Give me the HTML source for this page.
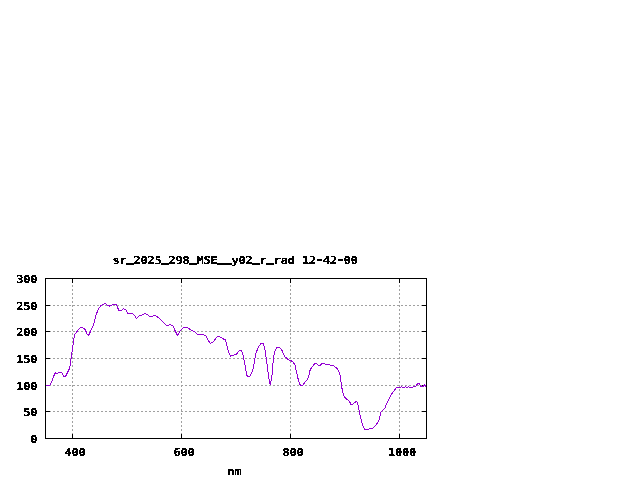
<!DOCTYPE html>
<html lang="en"><head><meta charset="utf-8"><title>sr_2025_298_MSE__y02_r_rad 12-42-00</title>
<style>html,body{margin:0;padding:0;background:#fff;width:640px;height:480px;overflow:hidden}svg{display:block}text{font-family:"DejaVu Sans Mono","Liberation Mono",monospace;font-weight:bold;font-size:12.0px;letter-spacing:-0.224px;fill:#000;stroke:#000;stroke-width:0.2px;text-rendering:geometricPrecision}.t{will-change:transform}</style></head><body>
<svg width="640" height="480" viewBox="0 0 640 480">
<defs><filter id="th" x="0" y="0" width="640" height="480" filterUnits="userSpaceOnUse" color-interpolation-filters="sRGB"><feComponentTransfer><feFuncA type="discrete" tableValues="0 1"/></feComponentTransfer></filter></defs>
<rect x="0" y="0" width="640" height="480" fill="#fff"/>
<g stroke="#a0a0a0" stroke-width="1" shape-rendering="crispEdges" stroke-dasharray="2 2" fill="none">
<line x1="45" y1="305.5" x2="427" y2="305.5"/>
<line x1="45" y1="331.5" x2="427" y2="331.5"/>
<line x1="45" y1="358.5" x2="427" y2="358.5"/>
<line x1="45" y1="385.5" x2="427" y2="385.5"/>
<line x1="45" y1="411.5" x2="427" y2="411.5"/>
<line x1="72.5" y1="439" x2="72.5" y2="278"/>
<line x1="181.5" y1="439" x2="181.5" y2="278"/>
<line x1="290.5" y1="439" x2="290.5" y2="278"/>
<line x1="399.5" y1="439" x2="399.5" y2="278"/>
</g>
<g stroke="#000" stroke-width="1" shape-rendering="crispEdges" fill="none">
<rect x="45.5" y="278.5" width="381" height="160"/>
<line x1="45" y1="278.5" x2="50" y2="278.5"/>
<line x1="422" y1="278.5" x2="427" y2="278.5"/>
<line x1="45" y1="305.5" x2="50" y2="305.5"/>
<line x1="422" y1="305.5" x2="427" y2="305.5"/>
<line x1="45" y1="331.5" x2="50" y2="331.5"/>
<line x1="422" y1="331.5" x2="427" y2="331.5"/>
<line x1="45" y1="358.5" x2="50" y2="358.5"/>
<line x1="422" y1="358.5" x2="427" y2="358.5"/>
<line x1="45" y1="385.5" x2="50" y2="385.5"/>
<line x1="422" y1="385.5" x2="427" y2="385.5"/>
<line x1="45" y1="411.5" x2="50" y2="411.5"/>
<line x1="422" y1="411.5" x2="427" y2="411.5"/>
<line x1="45" y1="438.5" x2="50" y2="438.5"/>
<line x1="422" y1="438.5" x2="427" y2="438.5"/>
<line x1="72.5" y1="439" x2="72.5" y2="434"/>
<line x1="72.5" y1="278" x2="72.5" y2="283"/>
<line x1="181.5" y1="439" x2="181.5" y2="434"/>
<line x1="181.5" y1="278" x2="181.5" y2="283"/>
<line x1="290.5" y1="439" x2="290.5" y2="434"/>
<line x1="290.5" y1="278" x2="290.5" y2="283"/>
<line x1="399.5" y1="439" x2="399.5" y2="434"/>
<line x1="399.5" y1="278" x2="399.5" y2="283"/>
</g>
<polyline points="46.0,385.4 49.6,385.5 52.2,380.6 55.0,372.8 56.9,373.5 58.8,372.5 61.9,372.5 63.8,376.2 65.6,376.2 67.5,372.5 69.8,368.1 71.0,358.8 72.2,351.2 73.5,341.2 74.4,335.0 76.2,332.5 80.0,327.8 82.5,327.8 85.2,329.4 86.9,333.8 88.5,335.6 90.6,331.2 94.1,323.1 96.0,315.0 98.5,308.9 101.2,305.2 105.0,303.5 107.5,305.2 110.0,306.2 113.1,304.6 116.2,304.6 118.8,310.2 121.2,310.6 123.5,308.5 126.0,310.0 128.1,313.5 132.5,313.5 135.0,316.0 136.5,318.5 138.8,316.2 141.9,315.0 145.0,313.5 147.5,314.8 149.8,316.5 152.5,316.5 154.4,315.2 156.9,316.5 160.0,318.8 163.8,322.5 166.5,325.4 168.8,325.4 170.2,324.4 173.1,326.0 175.0,330.6 177.5,335.6 180.0,331.2 183.1,327.6 187.5,327.6 190.0,329.5 194.4,331.5 197.5,334.8 202.5,334.4 206.0,336.0 208.5,341.0 210.6,343.5 213.8,341.2 216.9,336.9 219.4,336.5 222.5,338.5 225.2,339.8 226.5,343.8 228.1,350.6 230.6,356.2 233.1,355.6 236.6,354.0 239.4,350.4 241.5,350.6 243.1,355.6 244.6,363.0 246.9,375.9 250.0,376.4 252.5,371.2 254.5,361.5 255.6,354.4 258.1,347.5 261.0,343.5 263.5,343.5 265.2,350.6 266.9,363.1 268.8,377.5 270.2,385.0 271.9,376.2 273.1,361.9 274.4,352.5 276.9,347.5 279.4,347.2 281.5,349.4 285.0,356.9 288.1,359.4 292.5,361.5 295.0,365.0 296.9,373.8 298.8,381.9 300.6,385.8 303.1,385.0 305.0,381.9 307.8,379.0 309.0,374.6 310.2,369.8 313.1,365.6 315.6,363.1 318.8,365.6 320.6,365.0 322.5,363.1 324.4,363.4 326.2,364.6 329.4,364.6 331.2,365.6 333.5,365.6 335.0,367.1 337.2,368.5 339.4,372.5 340.6,378.1 341.5,385.6 342.5,391.2 343.8,395.6 345.6,398.5 348.1,400.0 350.0,402.5 351.0,404.4 353.1,404.0 356.5,401.2 357.6,403.0 358.7,409.0 360.6,417.5 362.5,425.0 364.4,429.0 368.1,429.4 370.0,428.4 372.5,428.4 375.0,426.0 377.5,423.1 379.4,418.8 381.0,412.2 385.0,407.8 387.5,401.9 391.2,394.4 396.5,387.5 400.5,387.5 401.5,386.5 402.5,387.5 404.5,387.5 405.5,386.5 406.5,387.5 407.5,387.5 408.5,386.5 409.5,387.5 412.5,387.5 414.0,386.5 415.5,386.5 416.5,385.5 417.5,383.5 419.5,383.5 420.5,386.5 423.3,386.5 424.5,384.7 425.5,386.3 426.0,386.5" fill="none" stroke="#9400d3" stroke-width="1" stroke-linejoin="round" shape-rendering="crispEdges"/>
<g class="t" filter="url(#th)">
<text transform="translate(235.1,264) scale(1,0.915)" text-anchor="middle"><tspan dy="0.00">sr</tspan><tspan dy="-2.40" style="stroke-width:1.0px">_</tspan><tspan dy="2.40">2025</tspan><tspan dy="-2.40" style="stroke-width:1.0px">_</tspan><tspan dy="2.40">298</tspan><tspan dy="-2.40" style="stroke-width:1.0px">_</tspan><tspan dy="2.40">MSE</tspan><tspan dy="-2.40" style="stroke-width:1.0px">__</tspan><tspan dy="2.40">y02</tspan><tspan dy="-2.40" style="stroke-width:1.0px">_</tspan><tspan dy="2.40">r</tspan><tspan dy="-2.40" style="stroke-width:1.0px">_</tspan><tspan dy="2.40">rad&#160;12</tspan><tspan dy="-1.10" style="stroke-width:1.0px">-</tspan><tspan dy="1.10">42</tspan><tspan dy="-1.10" style="stroke-width:1.0px">-</tspan><tspan dy="1.10">00</tspan></text>
<text transform="translate(37.3,283) scale(1,0.915)" text-anchor="end">300</text>
<text transform="translate(37.3,310) scale(1,0.915)" text-anchor="end">250</text>
<text transform="translate(37.3,336) scale(1,0.915)" text-anchor="end">200</text>
<text transform="translate(37.3,363) scale(1,0.915)" text-anchor="end">150</text>
<text transform="translate(37.3,390) scale(1,0.915)" text-anchor="end">100</text>
<text transform="translate(37.3,416) scale(1,0.915)" text-anchor="end">50</text>
<text transform="translate(37.3,443) scale(1,0.915)" text-anchor="end">0</text>
<text transform="translate(75.1,456) scale(1,0.915)" text-anchor="middle">400</text>
<text transform="translate(184.1,456) scale(1,0.915)" text-anchor="middle">600</text>
<text transform="translate(293.1,456) scale(1,0.915)" text-anchor="middle">800</text>
<text transform="translate(402.1,456) scale(1,0.915)" text-anchor="middle">1000</text>
<text transform="translate(234.6,475) scale(1,0.915)" text-anchor="middle">nm</text>
</g>
</svg></body></html>
